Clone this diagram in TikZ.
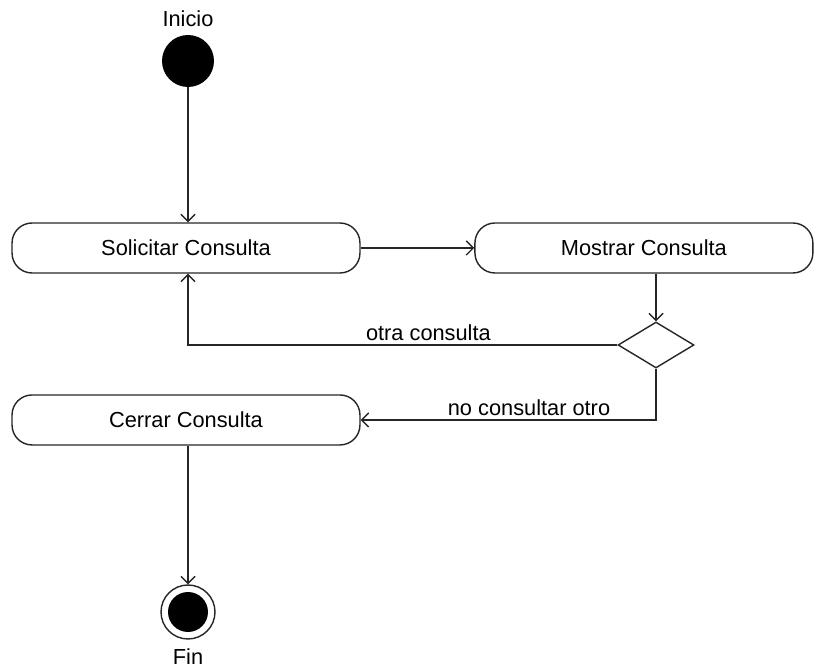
\documentclass[tikz,border=0pt]{standalone}
\usepackage{fontspec}
\setmainfont{Liberation Sans}
\usetikzlibrary{arrows.meta,positioning,shapes.geometric}

\begin{document}
\begin{tikzpicture}[x=0.02cm,y=-0.02cm,on grid,
    font=\fontsize{12.4}{15}\selectfont,
    linea/.style={draw=black!85,line width=0.8pt},
    flecha/.style={linea,-{Straight Barb[length=4pt,width=8pt]}},
    accion/.style={linea,rounded corners=0.4cm,minimum width=6.96cm,minimum height=1cm,inner sep=0pt},
    decision/.style={linea,diamond,minimum width=1.52cm,minimum height=0.92cm,inner sep=0pt},
    nodoinicial/.style={circle,fill=black,minimum size=1.04cm,inner sep=0pt},
    nodofinal/.style={circle,linea,minimum size=1.08cm,inner sep=0pt},
    etiqueta/.style={inner sep=2pt}]
  \useasboundingbox (0,0) rectangle (815,671);

  \node[nodoinicial] (init) at (188,61) {};
  \node[etiqueta]    (initlbl) at (188,19) {Inicio};
  \node[accion] (sol) at (186,248)          {Solicitar Consulta};
  \node[accion,minimum width=6.76cm] (mos) [right=9.16cm of sol] {Mostrar Consulta};
  \node[decision] (dec) at (656,345) {};
  \node[accion] (cer) [below=3.44cm of sol] {Cerrar Consulta};
  \node[nodofinal] (fin) at (188,612) {};
  \node[circle,fill=black,minimum size=0.8cm,inner sep=0pt] (fincore) at (fin) {};
  \node[etiqueta]  (finlbl) at (188,657) {Fin};

  \path[flecha] (init) -- (init |- sol.north);
  \path[flecha] (sol.east) -- (mos.west);
  \path[flecha] (dec.north |- mos.south) -- (dec.north);
  \path[flecha] (dec.west) -- node[above,pos=0.44,etiqueta] {otra consulta} (dec.west -| init)
                -- (init |- sol.south);
  \path[flecha] (dec.south) -- (dec.south |- cer.east)
                -- node[above,pos=0.43,etiqueta] {no consultar otro} (cer.east);
  \path[flecha] (fin |- cer.south) -- (fin);
\end{tikzpicture}
\end{document}
